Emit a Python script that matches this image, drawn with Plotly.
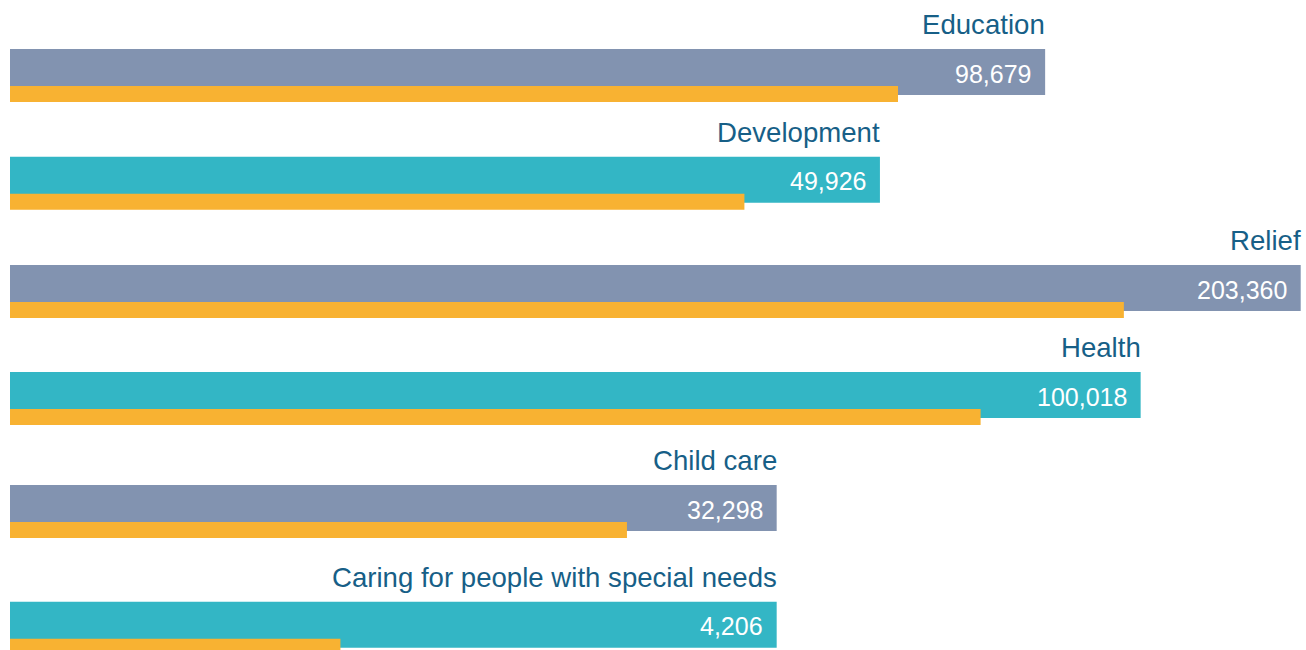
import plotly.graph_objects as go

# Sector data
categories = ["Education", "Development", "Relief", "Health", "Child care",
              "Caring for people with special needs"]
beneficiaries = [98679, 49926, 203360, 100018, 32298, 4206]
# Relative reach index (Relief = 100) and share served directly
reach_index = [80.2, 67.4, 100.0, 87.6, 59.4, 59.4]
direct_share = [68.8, 56.9, 86.3, 75.2, 47.8, 25.6]

# Layout constants (vertical axis in screen-like units, 0 at top)
W, H = 1306, 650
row_centers = [72, 179.7, 288, 395, 508, 624.7]
MAIN_H = 46
SUB_H = 16
SUB_OFFSET = 22

main_colors = ["#8293B0", "#33B6C5"] * 3
ORANGE = "#F8B232"
LABEL_COLOR = "#175F87"
FONT = "Liberation Sans, Arial, sans-serif"

fig = go.Figure()
fig.add_trace(go.Bar(
    x=reach_index, y=row_centers, orientation="h", width=MAIN_H,
    marker=dict(color=main_colors, line=dict(width=0)),
    hoverinfo="skip",
))
fig.add_trace(go.Bar(
    x=direct_share, y=[c + SUB_OFFSET for c in row_centers], orientation="h",
    width=SUB_H, marker=dict(color=ORANGE, line=dict(width=0)),
    hoverinfo="skip",
))

annotations = []
for cat, val, idx, yc in zip(categories, beneficiaries, reach_index, row_centers):
    annotations.append(dict(
        x=idx, y=yc - MAIN_H / 2 - 24.5, xref="x", yref="y",
        text=cat, showarrow=False, xanchor="right", yanchor="middle",
        xshift=2,
        font=dict(family=FONT, size=27.6, color=LABEL_COLOR),
    ))
    annotations.append(dict(
        x=idx, y=yc + 1.5, xref="x", yref="y",
        text=f"{val:,}", showarrow=False, xanchor="right", yanchor="middle",
        xshift=-12,
        font=dict(family=FONT, size=25, color="white"),
    ))

px_per_unit = (1300.7 - 10) / 100
fig.update_layout(
    width=W, height=H,
    margin=dict(l=0, r=0, t=0, b=0),
    paper_bgcolor="white", plot_bgcolor="white",
    barmode="overlay", showlegend=False,
    xaxis=dict(range=[-10 / px_per_unit, (W - 10) / px_per_unit],
               visible=False, fixedrange=True),
    yaxis=dict(range=[H, 0], visible=False, fixedrange=True),
    annotations=annotations,
)

fig.write_html("out.html")
